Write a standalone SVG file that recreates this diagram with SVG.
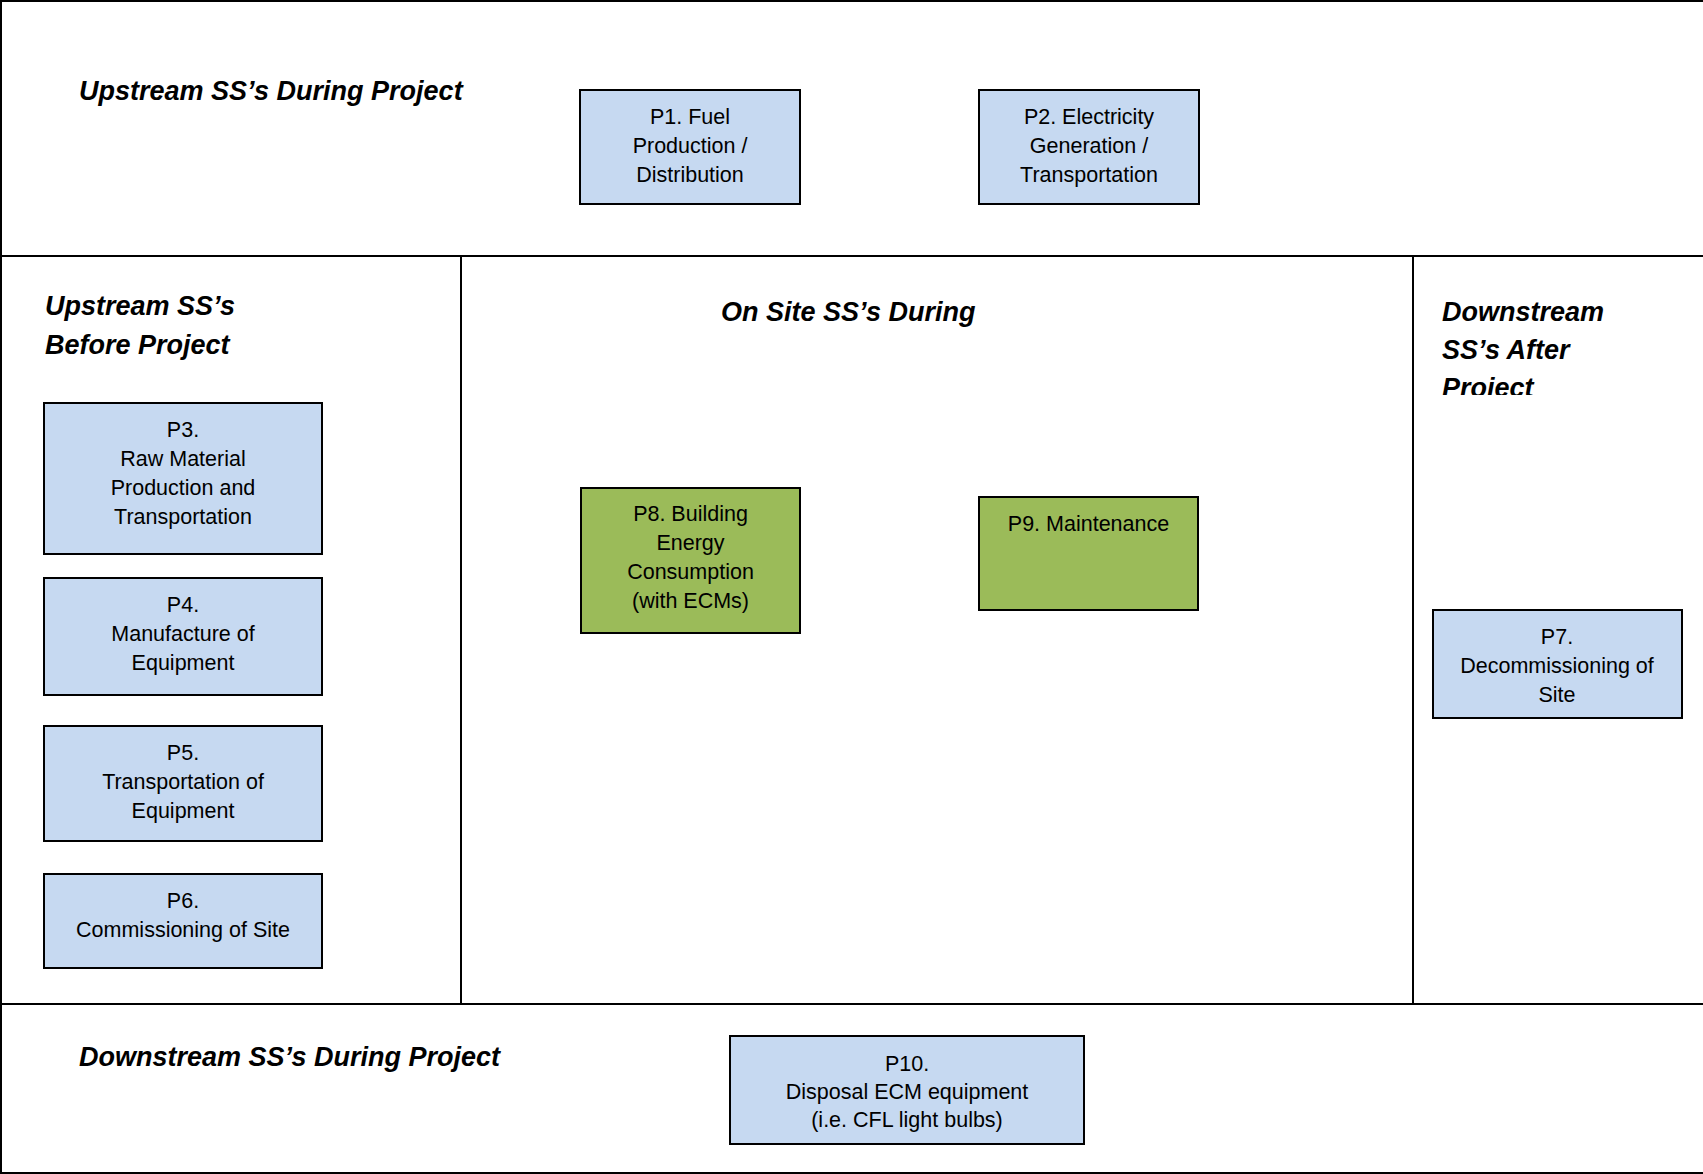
<svg xmlns="http://www.w3.org/2000/svg" width="1703" height="1174" viewBox="0 0 1703 1174">
<defs>
<style>
.frame{stroke:#000;stroke-width:2;fill:none}
.box{stroke:#000;stroke-width:2}
.blue{fill:#C6D9F1}
.green{fill:#9BBB59}
.t{font-family:"Liberation Sans",Arial,sans-serif;font-size:21.5px;fill:#000;text-anchor:middle}
.h{font-family:"Liberation Sans",Arial,sans-serif;font-size:27px;font-weight:bold;font-style:italic;fill:#000}
</style>
<clipPath id="clipDS"><rect x="1414" y="256" width="289" height="139"/></clipPath>
</defs>
<rect width="1703" height="1174" fill="#fff"/>
<g id="frame">
<line class="frame" x1="1" y1="1" x2="1703" y2="1"/>
<line class="frame" x1="1" y1="0" x2="1" y2="1174"/>
<line class="frame" x1="1" y1="1173" x2="1703" y2="1173"/>
<line class="frame" x1="1" y1="256" x2="1703" y2="256"/>
<line class="frame" x1="1" y1="1004" x2="1703" y2="1004"/>
<line class="frame" x1="461" y1="256" x2="461" y2="1004"/>
<line class="frame" x1="1413" y1="256" x2="1413" y2="1004"/>
</g>
<g id="headings">
<text class="h" x="79" y="100">Upstream SS’s During Project</text>
<text class="h" x="45" y="315">Upstream SS’s</text>
<text class="h" x="45" y="354">Before Project</text>
<text class="h" x="721" y="321">On Site SS’s During</text>
<g clip-path="url(#clipDS)">
<text class="h" x="1442" y="321">Downstream</text>
<text class="h" x="1442" y="359">SS’s After</text>
<text class="h" x="1442" y="397">Project</text>
</g>
<text class="h" x="79" y="1066">Downstream SS’s During Project</text>
</g>
<g id="connectors"></g>
<g id="P1">
<rect class="box blue" x="580" y="90" width="220" height="114"/>
<text class="t" x="690" y="124">P1. Fuel</text>
<text class="t" x="690" y="153">Production /</text>
<text class="t" x="690" y="182">Distribution</text>
</g>
<g id="P2">
<rect class="box blue" x="979" y="90" width="220" height="114"/>
<text class="t" x="1089" y="124">P2. Electricity</text>
<text class="t" x="1089" y="153">Generation /</text>
<text class="t" x="1089" y="182">Transportation</text>
</g>
<g id="P3">
<rect class="box blue" x="44" y="403" width="278" height="151"/>
<text class="t" x="183" y="437">P3.</text>
<text class="t" x="183" y="466">Raw Material</text>
<text class="t" x="183" y="495">Production and</text>
<text class="t" x="183" y="524">Transportation</text>
</g>
<g id="P4">
<rect class="box blue" x="44" y="578" width="278" height="117"/>
<text class="t" x="183" y="612">P4.</text>
<text class="t" x="183" y="641">Manufacture of</text>
<text class="t" x="183" y="670">Equipment</text>
</g>
<g id="P5">
<rect class="box blue" x="44" y="726" width="278" height="115"/>
<text class="t" x="183" y="760">P5.</text>
<text class="t" x="183" y="789">Transportation of</text>
<text class="t" x="183" y="818">Equipment</text>
</g>
<g id="P6">
<rect class="box blue" x="44" y="874" width="278" height="94"/>
<text class="t" x="183" y="908">P6.</text>
<text class="t" x="183" y="937">Commissioning of Site</text>
</g>
<g id="P8">
<rect class="box green" x="581" y="488" width="219" height="145"/>
<text class="t" x="690.5" y="521">P8. Building</text>
<text class="t" x="690.5" y="550">Energy</text>
<text class="t" x="690.5" y="579">Consumption</text>
<text class="t" x="690.5" y="608">(with ECMs)</text>
</g>
<g id="P9">
<rect class="box green" x="979" y="497" width="219" height="113"/>
<text class="t" x="1088.5" y="531">P9. Maintenance</text>
</g>
<g id="P7">
<rect class="box blue" x="1433" y="610" width="249" height="108"/>
<text class="t" x="1557" y="644">P7.</text>
<text class="t" x="1557" y="673">Decommissioning of</text>
<text class="t" x="1557" y="702">Site</text>
</g>
<g id="P10">
<rect class="box blue" x="730" y="1036" width="354" height="108"/>
<text class="t" x="907" y="1071">P10.</text>
<text class="t" x="907" y="1099">Disposal ECM equipment</text>
<text class="t" x="907" y="1127">(i.e. CFL light bulbs)</text>
</g>
</svg>
